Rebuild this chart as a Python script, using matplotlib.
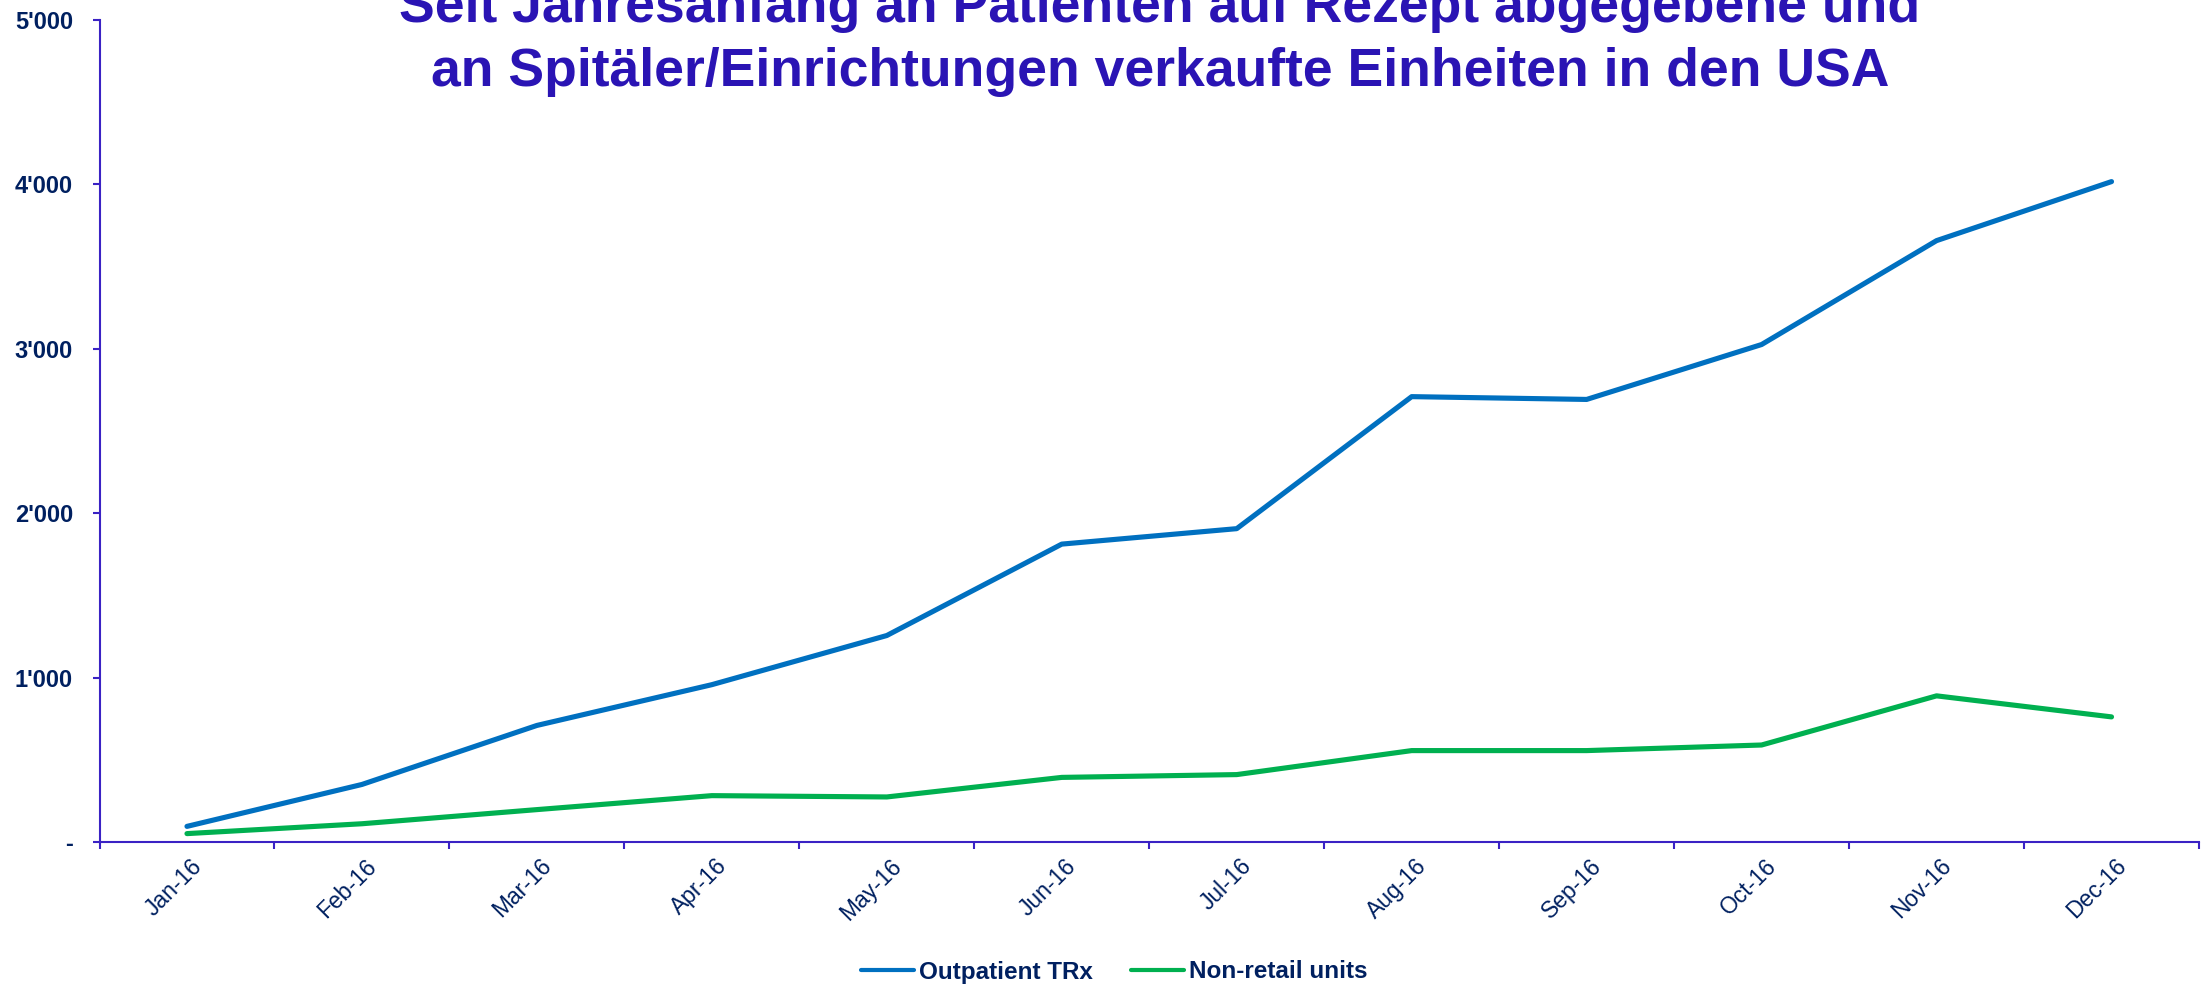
import matplotlib.pyplot as plt
import matplotlib.transforms as mtransforms
import numpy as np

# data
months = ["Jan-16", "Feb-16", "Mar-16", "Apr-16", "May-16", "Jun-16",
          "Jul-16", "Aug-16", "Sep-16", "Oct-16", "Nov-16", "Dec-16"]
outpatient_trx = [95, 350, 709, 957, 1256, 1812, 1906, 2709, 2692, 3026, 3658, 4017]
non_retail_units = [51, 111, 197, 282, 274, 393, 410, 556, 556, 590, 889, 761]
yticks = [0, 1000, 2000, 3000, 4000, 5000]
title_lines = ["Seit Jahresanfang an Patienten auf Rezept abgegebene und",
               "an Spitäler/Einrichtungen verkaufte Einheiten in den USA"]

plt.rcParams['font.family'] = ['Liberation Sans', 'DejaVu Sans']

navy = "#002060"
axis_col = "#3A22C4"
title_col = "#2A14B4"

W, H = 2202, 985
fig = plt.figure(figsize=(W / 100, H / 100), dpi=100)
ax = fig.add_axes([99.5 / W, 1 - 842 / H, (2199 - 99.5) / W, (842 - 20) / H])

x = np.arange(len(months))
ax.plot(x, outpatient_trx, color="#0070C0", lw=3.7, solid_capstyle="round",
        solid_joinstyle="round", label="Outpatient TRx")
ax.plot(x, non_retail_units, color="#00B050", lw=3.7, solid_capstyle="round",
        solid_joinstyle="round", label="Non-retail units")

ax.set_xlim(-0.5, len(months) - 0.5)
ax.set_ylim(0, 5000)

# ticks between categories, labels at category centres
ax.set_xticks(np.arange(-0.5, len(months), 1))
ax.set_xticklabels([])
ax.set_xticks(x, minor=True)
ax.set_xticklabels(months, minor=True, rotation=45, ha="right", va="top",
                   rotation_mode="anchor", fontsize=16.5, color=navy)
ax.tick_params(axis="x", which="major", direction="out", length=5, width=1.5, color=axis_col)
ax.tick_params(axis="x", which="minor", length=0, pad=9)
offset = mtransforms.ScaledTranslation(0.03, 0, fig.dpi_scale_trans)
for lab in ax.get_xticklabels(minor=True):
    lab.set_transform(lab.get_transform() + offset)

ax.set_yticks(yticks)
ax.set_yticklabels(["-" if v == 0 else f"{v:,}".replace(",", "'") for v in yticks],
                   fontsize=17, fontweight="bold", color=navy)
ax.tick_params(axis="y", direction="out", length=5, width=1.5, color=axis_col, pad=14)

for side in ["top", "right"]:
    ax.spines[side].set_visible(False)
for side in ["left", "bottom"]:
    ax.spines[side].set_color(axis_col)
    ax.spines[side].set_linewidth(1.5)

# two-line title, partly cut at the top like the original
for line, base in zip(title_lines, [22, 86]):
    fig.text(1160 / W, 1 - base / H, line, ha="center", va="baseline",
             fontsize=38.5, fontweight="bold", color=title_col)

leg = fig.legend(loc="center", bbox_to_anchor=(0.506, 1 - 972 / H), ncol=2, frameon=False,
                 handlelength=2.2, handletextpad=0.2, columnspacing=1.55,
                 prop={"size": 17.5, "weight": "bold"}, labelcolor=navy)
for h in leg.legend_handles:
    h.set_linewidth(3.0)

plt.savefig("out.png", dpi=100)
plt.close()
